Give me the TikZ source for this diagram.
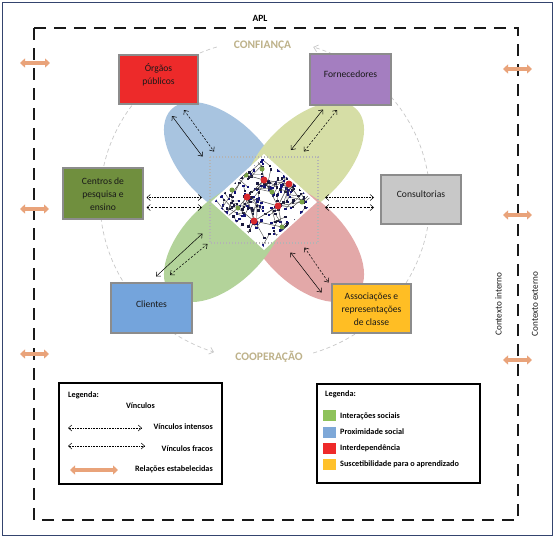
\documentclass[tikz,border=0pt]{standalone}
\usepackage{fontspec}
\setmainfont{Carlito}
\usetikzlibrary{arrows.meta}
\definecolor{frame}{RGB}{52,68,110}
\definecolor{boxgray}{RGB}{140,140,140}
\definecolor{cred}{RGB}{237,42,42}
\definecolor{cpurple}{RGB}{164,126,192}
\definecolor{colive}{RGB}{112,143,62}
\definecolor{cgrey}{RGB}{200,200,200}
\definecolor{cblue}{RGB}{116,164,220}
\definecolor{cyellow}{RGB}{255,190,36}
\definecolor{pblue}{RGB}{168,196,224}
\definecolor{polive}{RGB}{214,222,166}
\definecolor{ppink}{RGB}{227,168,168}
\definecolor{pgreen}{RGB}{179,211,154}
\definecolor{tanc}{RGB}{190,178,138}
\definecolor{circc}{RGB}{200,200,200}
\definecolor{relor}{RGB}{233,163,122}
\definecolor{lgreen}{RGB}{142,194,90}
\definecolor{lblue}{RGB}{126,168,216}
\definecolor{lred}{RGB}{238,42,42}
\definecolor{lyellow}{RGB}{255,193,43}
\definecolor{netnode}{RGB}{25,25,60}
\definecolor{netedge}{RGB}{70,70,70}
\definecolor{nred}{RGB}{215,40,45}
\definecolor{ngreen}{RGB}{120,160,70}
\definecolor{dotsqc}{RGB}{180,180,180}
\begin{document}
\begin{tikzpicture}[x=1pt,y=-1pt,
  box/.style={draw=boxgray, line width=1.6pt, inner sep=0pt},
  boxtxt/.style={font=\fontsize{9.6}{13.2}\selectfont, align=center, text=black!90, inner sep=0pt},
  vsolid/.style={line width=0.5pt, {Straight Barb[length=3.5pt,width=6pt]}-{Straight Barb[length=3.5pt,width=6pt]}},
  vdash/.style={vsolid, dash pattern=on 2.2pt off 1.6pt},
  vdot/.style={vsolid, dash pattern=on 0.9pt off 0.7pt},
  rel/.style={draw=relor, line width=3.4pt, {Triangle[length=5pt,width=9pt]}-{Triangle[length=5pt,width=9pt]}},
  cyc/.style={draw=circc, line width=0.7pt, dash pattern=on 4pt off 3pt, -{Straight Barb[length=4pt,width=7pt]}},
  bigword/.style={font=\bfseries\fontsize{11.5}{13}\selectfont, text=tanc, inner sep=0pt},
  legtxt/.style={font=\bfseries\fontsize{8.2}{10}\selectfont, inner sep=0pt, text=black},
  legbox/.style={draw=black, line width=1.5pt, inner sep=0pt},
  sq/.style={inner sep=0pt, minimum width=13pt, minimum height=11pt},
  ctx/.style={font=\fontsize{9.2}{11}\selectfont, inner sep=0pt, text=black!90}
]
\useasboundingbox (0,0) rectangle (560,544);
\fill[white] (0,0) rectangle (560,544);
\draw[frame, line width=0.8pt] (2.5,2.5) rectangle (552,535);
\draw[line width=2.8pt, dash pattern=on 12pt off 8pt, black!90] (34,28) rectangle (518,520);
\node[font=\bfseries\fontsize{9.5}{11}\selectfont, inner sep=0pt] (apl) at (260,18) {APL};

% cycle arcs
\draw[cyc] plot[domain=73:-73, samples=80] ({265+165*cos(\x)},{200+160*sin(\x)});
\draw[cyc] plot[domain=253:108, samples=80] ({265+165*cos(\x)},{200+160*sin(\x)});
\node[bigword] (conf) at (262.5,46) {CONFIANÇA};
\node[bigword] (coop) at (269,357) {COOPERAÇÃO};

% petals
\fill[pblue, shift={(224.4,162.4)}, rotate=-45] (0,0) ellipse [x radius=75, y radius=41];
\fill[polive, shift={(303.6,162.4)}, rotate=45] (0,0) ellipse [x radius=75, y radius=41];
\fill[ppink, shift={(303.6,241.6)}, rotate=-45] (0,0) ellipse [x radius=75, y radius=41];
\fill[pgreen, shift={(224.4,241.6)}, rotate=45] (0,0) ellipse [x radius=75, y radius=41];

% network diamond
\fill[white] (211,202) -- (264,154) -- (317,202) -- (264,250) -- cycle;
\begin{scope}
\clip (214,202) -- (264,157) -- (314,202) -- (264,247) -- cycle;
\pgfmathsetseed{4}
\foreach \k in {1,...,130}{
  \pgfmathsetmacro\ra{43*sqrt(rnd)}
  \pgfmathsetmacro\aa{360*rnd}
  \pgfmathsetmacro\ln{5+13*rnd}
  \pgfmathsetmacro\ab{360*rnd}
  \draw[netedge, line width=0.4pt] ([shift={(264,202)}]\aa:\ra) coordinate (s\k) -- ++(\ab:\ln) coordinate (e\k);
  \fill[netnode] (s\k) ++(-1.2,-1.2) rectangle ++(2.4,2.4);
  \fill[netnode!70!blue] (e\k) ++(-1.2,-1.2) rectangle ++(2.4,2.4);
}
\draw[netedge, line width=0.5pt] (264,180) -- (289,184) -- (278,206) -- (247,197) -- (264,180) -- (278,206) -- (254,221) -- (247,197);
\draw[netedge, line width=0.5pt] (264,180) -- (262,169) (289,184) -- (302,202) -- (278,206) (247,197) -- (238,208) -- (254,221) -- (282,227) -- (278,206) (254,221) -- (246,238) (282,227) -- (290,232) (246,175) -- (264,180) (246,175) -- (230,196) (289,184) -- (300,178) (238,208) -- (228,216) (302,202) -- (308,196);
\foreach \x/\y in {262/169,302/202,238/208,282/227,246/175,290/232,272/192,232/190}{
  \fill[ngreen] (\x,\y) circle (2.5);
}
\foreach \x/\y in {264/180,289/184,247/197,278/206,254/221}{
  \fill[nred] (\x,\y) circle (3.5);
}
\end{scope}
\draw[dotsqc, line width=1.3pt, dash pattern=on 1.3pt off 1.7pt] (210,157) rectangle (318,243);

% boxes
\node[box, fill=cred, minimum width=79pt, minimum height=49pt] (org) at (158.5,79.5) {};
\node[box, fill=cpurple, minimum width=81pt, minimum height=51pt] (forn) at (350.5,79.5) {};
\node[box, fill=colive, minimum width=80pt, minimum height=51pt] (cent) at (103,193.5) {};
\node[box, fill=cgrey, minimum width=80pt, minimum height=49pt] (cons) at (421,199.5) {};
\node[box, fill=cblue, minimum width=81pt, minimum height=50pt] (cli) at (151.5,308) {};
\node[box, fill=cyellow, minimum width=79pt, minimum height=49pt] (assoc) at (371.5,308.5) {};
\node[boxtxt] (orgt) at (158.5,75) {Órgãos\\públicos};
\node[boxtxt] (fornt) at (350.5,74) {Fornecedores};
\node[boxtxt] (centt) at (103,194) {Centros de\\pesquisa e\\ensino};
\node[boxtxt] (const) at (421,194) {Consultorias};
\node[boxtxt] (clit) at (151.5,304) {Clientes};
\node[boxtxt] (assoct) at (371.5,309) {Associações e\\representações\\de classe};

% link endpoints
\coordinate (o1a) at (172,116); \coordinate (o1b) at (202.5,156.5);
\coordinate (o2a) at (184,110); \coordinate (o2b) at (214,151.5);
\coordinate (f1a) at (323,109.5); \coordinate (f1b) at (291,150);
\coordinate (f2a) at (337,110); \coordinate (f2b) at (304,151.5);
\coordinate (c1a) at (146.5,197.5); \coordinate (c1b) at (202,197.5);
\coordinate (c2a) at (146.5,207.5); \coordinate (c2b) at (202,207.5);
\coordinate (k1a) at (325,197.5); \coordinate (k1b) at (374,197.5);
\coordinate (k2a) at (325,207.5); \coordinate (k2b) at (374,207.5);
\coordinate (l1a) at (156,276.5); \coordinate (l1b) at (202.5,233.5);
\coordinate (l2a) at (170,275); \coordinate (l2b) at (207.5,244);
\coordinate (a1a) at (290.5,252.5); \coordinate (a1b) at (321.5,292.5);
\coordinate (a2a) at (304.5,247.5); \coordinate (a2b) at (328.5,282.5);
\draw[vsolid] (o1a) -- (o1b);
\draw[vdash] (o2a) -- (o2b);
\draw[vsolid] (f1a) -- (f1b);
\draw[vdash] (f2a) -- (f2b);
\draw[vdot] (c1a) -- (c1b);
\draw[vdash] (c2a) -- (c2b);
\draw[vdot] (k1a) -- (k1b);
\draw[vdash] (k2a) -- (k2b);
\draw[vsolid] (l1a) -- (l1b);
\draw[vdash] (l2a) -- (l2b);
\draw[vsolid] (a1a) -- (a1b);
\draw[vdash] (a2a) -- (a2b);

% established relations
\coordinate (r1a) at (20,63); \coordinate (r1b) at (50,63);
\coordinate (r2a) at (20,209); \coordinate (r2b) at (49,209);
\coordinate (r3a) at (20,354); \coordinate (r3b) at (49,354);
\coordinate (r4a) at (503,69); \coordinate (r4b) at (532,69);
\coordinate (r5a) at (503,215); \coordinate (r5b) at (532,215);
\coordinate (r6a) at (503,360); \coordinate (r6b) at (532,360);
\foreach \i in {1,...,6}{ \draw[rel] (r\i a) -- (r\i b); }

% context labels
\node[ctx, rotate=90] (cint) at (498.5,304) {Contexto interno};
\node[ctx, rotate=90] (cext) at (535,304) {Contexto externo};

% legend left
\node[legbox, minimum width=163pt, minimum height=101pt] (leg1) at (140.5,433.5) {};
\node[legtxt, anchor=west] (l1title) at (68,395) {Legenda:};
\node[legtxt] (l1vin) at (140.5,405.5) {Vínculos};
\node[legtxt, anchor=east] (l1int) at (213,427) {Vínculos intensos};
\node[legtxt, anchor=east] (l1fra) at (213,449) {Vínculos fracos};
\node[legtxt, anchor=east] (l1rel) at (213,469.5) {Relações estabelecidas};
\coordinate (g1a) at (68,428); \coordinate (g1b) at (142,428);
\coordinate (g2a) at (68,446); \coordinate (g2b) at (145,446);
\coordinate (g3a) at (70,470); \coordinate (g3b) at (118,470);
\draw[vdot] (g1a) -- (g1b);
\draw[vdot] (g2a) -- (g2b);
\draw[rel] (g3a) -- (g3b);

% legend right
\node[legbox, minimum width=163pt, minimum height=99pt] (leg2) at (398.5,433.5) {};
\node[legtxt, anchor=west] (l2title) at (325,394.5) {Legenda:};
\node[sq, fill=lgreen] (sq1) at (329.5,415) {};
\node[sq, fill=lblue] (sq2) at (329.5,432) {};
\node[sq, fill=lred] (sq3) at (329.5,448) {};
\node[sq, fill=lyellow] (sq4) at (329.5,464) {};
\node[legtxt, anchor=west] (t1) at (340,416) {Interações sociais};
\node[legtxt, anchor=west] (t2) at (340,432) {Proximidade social};
\node[legtxt, anchor=west] (t3) at (340,448) {Interdependência};
\node[legtxt, anchor=west] (t4) at (340,464) {Suscetibilidade para o aprendizado};
\end{tikzpicture}
\end{document}
